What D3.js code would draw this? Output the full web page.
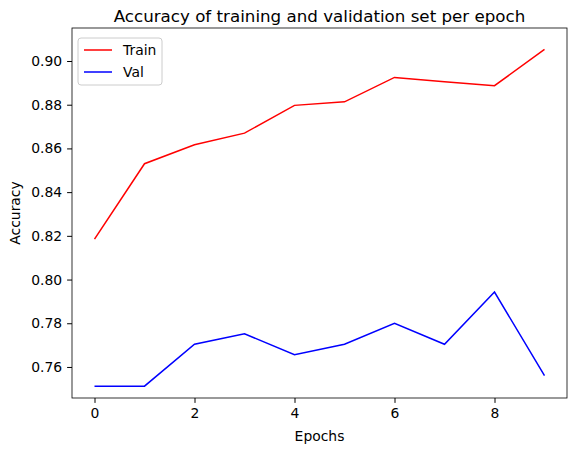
<!DOCTYPE html>
<html><head><meta charset="utf-8">
<script src="https://cdn.jsdelivr.net/npm/d3@7"></script>
<style>body{margin:0;background:#fff}text{font-family:"DejaVu Sans",sans-serif}</style>
</head><body><svg id="c" width="576" height="455"></svg>
<script>
const epochs=[0,1,2,3,4,5,6,7,8,9];
const train=[0.8185,0.853,0.8617,0.8670,0.8797,0.8813,0.8925,0.8905,0.8887,0.9053];
const val=[0.7512,0.7512,0.7704,0.7752,0.7656,0.7704,0.7800,0.7704,0.7943,0.7560];
const yTicks=[0.76,0.78,0.80,0.82,0.84,0.86,0.88,0.90];
const xTicks=[0,2,4,6,8];
const svg=d3.select("#c");
const L=72,R=567,T=28,B=398;
const x=d3.scaleLinear().domain([-0.45,9.45]).range([L,R]);
const y=d3.scaleLinear().domain([0.7458,0.9151]).range([B,T]);
const xa=svg.append("g").attr("transform",`translate(0,${B})`).call(d3.axisBottom(x).tickValues(xTicks).tickSize(4.9).tickPadding(4.9).tickFormat(d3.format("d")));
const ya=svg.append("g").attr("transform",`translate(${L},0)`).call(d3.axisLeft(y).tickValues(yTicks).tickSize(4.9).tickPadding(4.9).tickFormat(d3.format(".2f")));
[xa,ya].forEach(a=>{a.select(".domain").remove();a.selectAll("text").attr("font-size",13.9).attr("fill","#000");a.selectAll("line").attr("stroke","#000");});
svg.append("rect").attr("x",L).attr("y",T).attr("width",R-L).attr("height",B-T).attr("fill","none").attr("stroke","#000").attr("stroke-width",0.8);
const line=d3.line().x((d,i)=>x(epochs[i])).y(d=>y(d));
svg.append("path").attr("d",line(train)).attr("fill","none").attr("stroke","red").attr("stroke-width",1.5);
svg.append("path").attr("d",line(val)).attr("fill","none").attr("stroke","blue").attr("stroke-width",1.5);
svg.append("text").attr("x",(L+R)/2).attr("y",T-6).attr("text-anchor","middle").attr("font-size",16.7).text("Accuracy of training and validation set per epoch");
svg.append("text").attr("x",(L+R)/2).attr("y",B+43).attr("text-anchor","middle").attr("font-size",13.9).text("Epochs");
svg.append("text").attr("transform",`translate(20,${(T+B)/2}) rotate(-90)`).attr("text-anchor","middle").attr("font-size",13.9).text("Accuracy");
const lg=svg.append("g").attr("transform",`translate(${L+6},${T+10})`);
lg.append("rect").attr("width",84).attr("height",47).attr("rx",3).attr("fill","#fff").attr("stroke","#ccc");
[["Train","red"],["Val","blue"]].forEach((s,i)=>{
 lg.append("line").attr("x1",6).attr("x2",34).attr("y1",12+i*22).attr("y2",12+i*22).attr("stroke",s[1]).attr("stroke-width",1.5);
 lg.append("text").attr("x",45).attr("y",17+i*22).attr("font-size",13.9).text(s[0]);
});
</script></body></html>
